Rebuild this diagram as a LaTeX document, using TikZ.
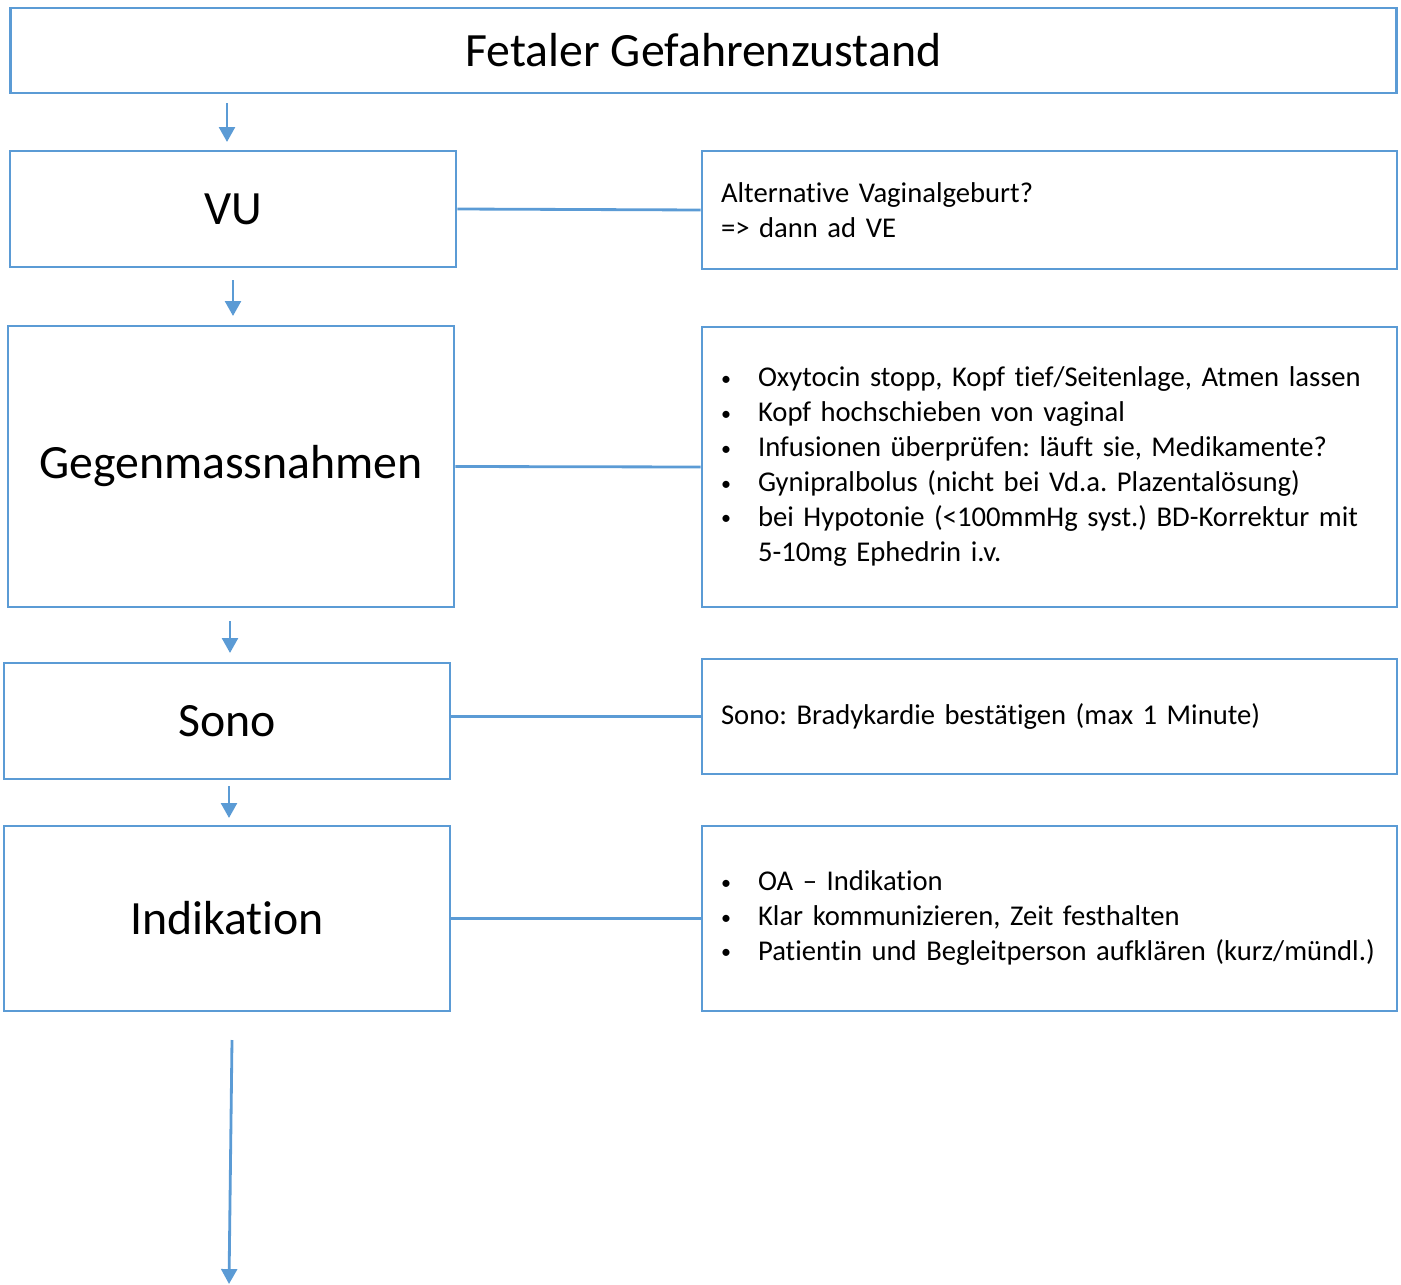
\documentclass[tikz,border=0pt]{standalone}
\usepackage{fontspec}
\setmainfont{Carlito}[Ligatures=NoCommon]
\usetikzlibrary{arrows.meta}
\usetikzlibrary{positioning}
\frenchspacing

\definecolor{flowblue}{HTML}{5B9BD5}

\begin{document}
\begin{tikzpicture}[x=0.02cm,y=-0.02cm,
		bigbox/.style={draw=flowblue,line width=1.6pt,minimum width=8.92cm,inner sep=0pt,font=\fontsize{27.2}{32}\selectfont},
		infobox/.style={draw=flowblue,line width=1.6pt,minimum width=13.9cm,text width=13.14cm,inner xsep=0.38cm,inner ysep=0pt,align=left,font=\fontsize{16.3}{19.85}\selectfont},
		link/.style={draw=flowblue,line width=1.6pt},
		flow/.style={draw=flowblue,line width=1.6pt,-{Triangle[width=9pt,length=8.5pt]}}]
		\newcommand{\blt}{\raisebox{0.1ex}{\scalebox{0.7}{\textbullet}}}
		
		\useasboundingbox (0,0) rectangle (1401,1285);	% page
		
		% left column
		\node[bigbox,minimum width=27.74cm,minimum height=1.7cm] (title) at (703.5,50.5) {Fetaler Gefahrenzustand};
		\node[bigbox,minimum height=2.32cm] (vu) at (233,209) {VU};
		\node[bigbox,minimum height=5.62cm] (gegen) at (231,466.5) {Gegenmassnahmen};
		\node[bigbox,minimum height=2.32cm] (sono) at (227,721) {Sono};
		\node[bigbox,minimum height=3.7cm] (indik) at (227,918.5) {Indikation};
		
		% right column
		\node[infobox,minimum height=2.36cm] (vuinfo) at (1049.5,210) {Alternative Vaginalgeburt?\\=> dann ad VE};
		\node[infobox,minimum height=5.6cm] (gegeninfo) at (1049.5,467) {%
			\begin{tabular}{@{}p{0.74cm}@{}l@{}}
				\blt & Oxytocin stopp, Kopf tief/Seitenlage, Atmen lassen\\
				\blt & Kopf hochschieben von vaginal\\
				\blt & Infusionen überprüfen: läuft sie, Medikamente?\\
				\blt & Gynipralbolus (nicht bei Vd.a. Plazentalösung)\\
				\blt & bei Hypotonie (<100mmHg syst.) BD-Korrektur mit\\
				     & 5-10mg Ephedrin i.v.
			\end{tabular}};
		\node[infobox,minimum height=2.3cm] (sonoinfo) at (1049.5,716.5) {Sono: Bradykardie bestätigen (max 1 Minute)};
		\node[infobox,minimum height=3.7cm] (indikinfo) at (1049.5,918.5) {%
			\begin{tabular}{@{}p{0.74cm}@{}l@{}}
				\blt & OA – Indikation\\
				\blt & Klar kommunizieren, Zeit festhalten\\
				\blt & Patientin und Begleitperson aufklären (kurz/mündl.)
			\end{tabular}};
		
		% links
		\draw[link] (vu.east) -- (vuinfo.west);
		\draw[link] (gegen.east) -- (gegeninfo.west);
		\draw[link] (sonoinfo.west -| sono.east) -- (sonoinfo.west);
		\draw[link] (indik.east) -- (indikinfo.west);
		
		% arrows between the boxes
		\coordinate (a1s) at (227,103);  \coordinate (a1e) at (227,142);
		\coordinate (a2s) at (233,280);  \coordinate (a2e) at (233,316);
		\coordinate (a3s) at (230,621);  \coordinate (a3e) at (230,653);
		\coordinate (a4s) at (229,786);  \coordinate (a4e) at (229,818);
		\coordinate (a5s) at (232,1040); \coordinate (a5e) at (229,1284);
		\draw[flow] (a1s) -- (a1e);
		\draw[flow] (a2s) -- (a2e);
		\draw[flow] (a3s) -- (a3e);
		\draw[flow] (a4s) -- (a4e);
		\draw[flow] (a5s) -- (a5e);
	\end{tikzpicture}
\end{document}
